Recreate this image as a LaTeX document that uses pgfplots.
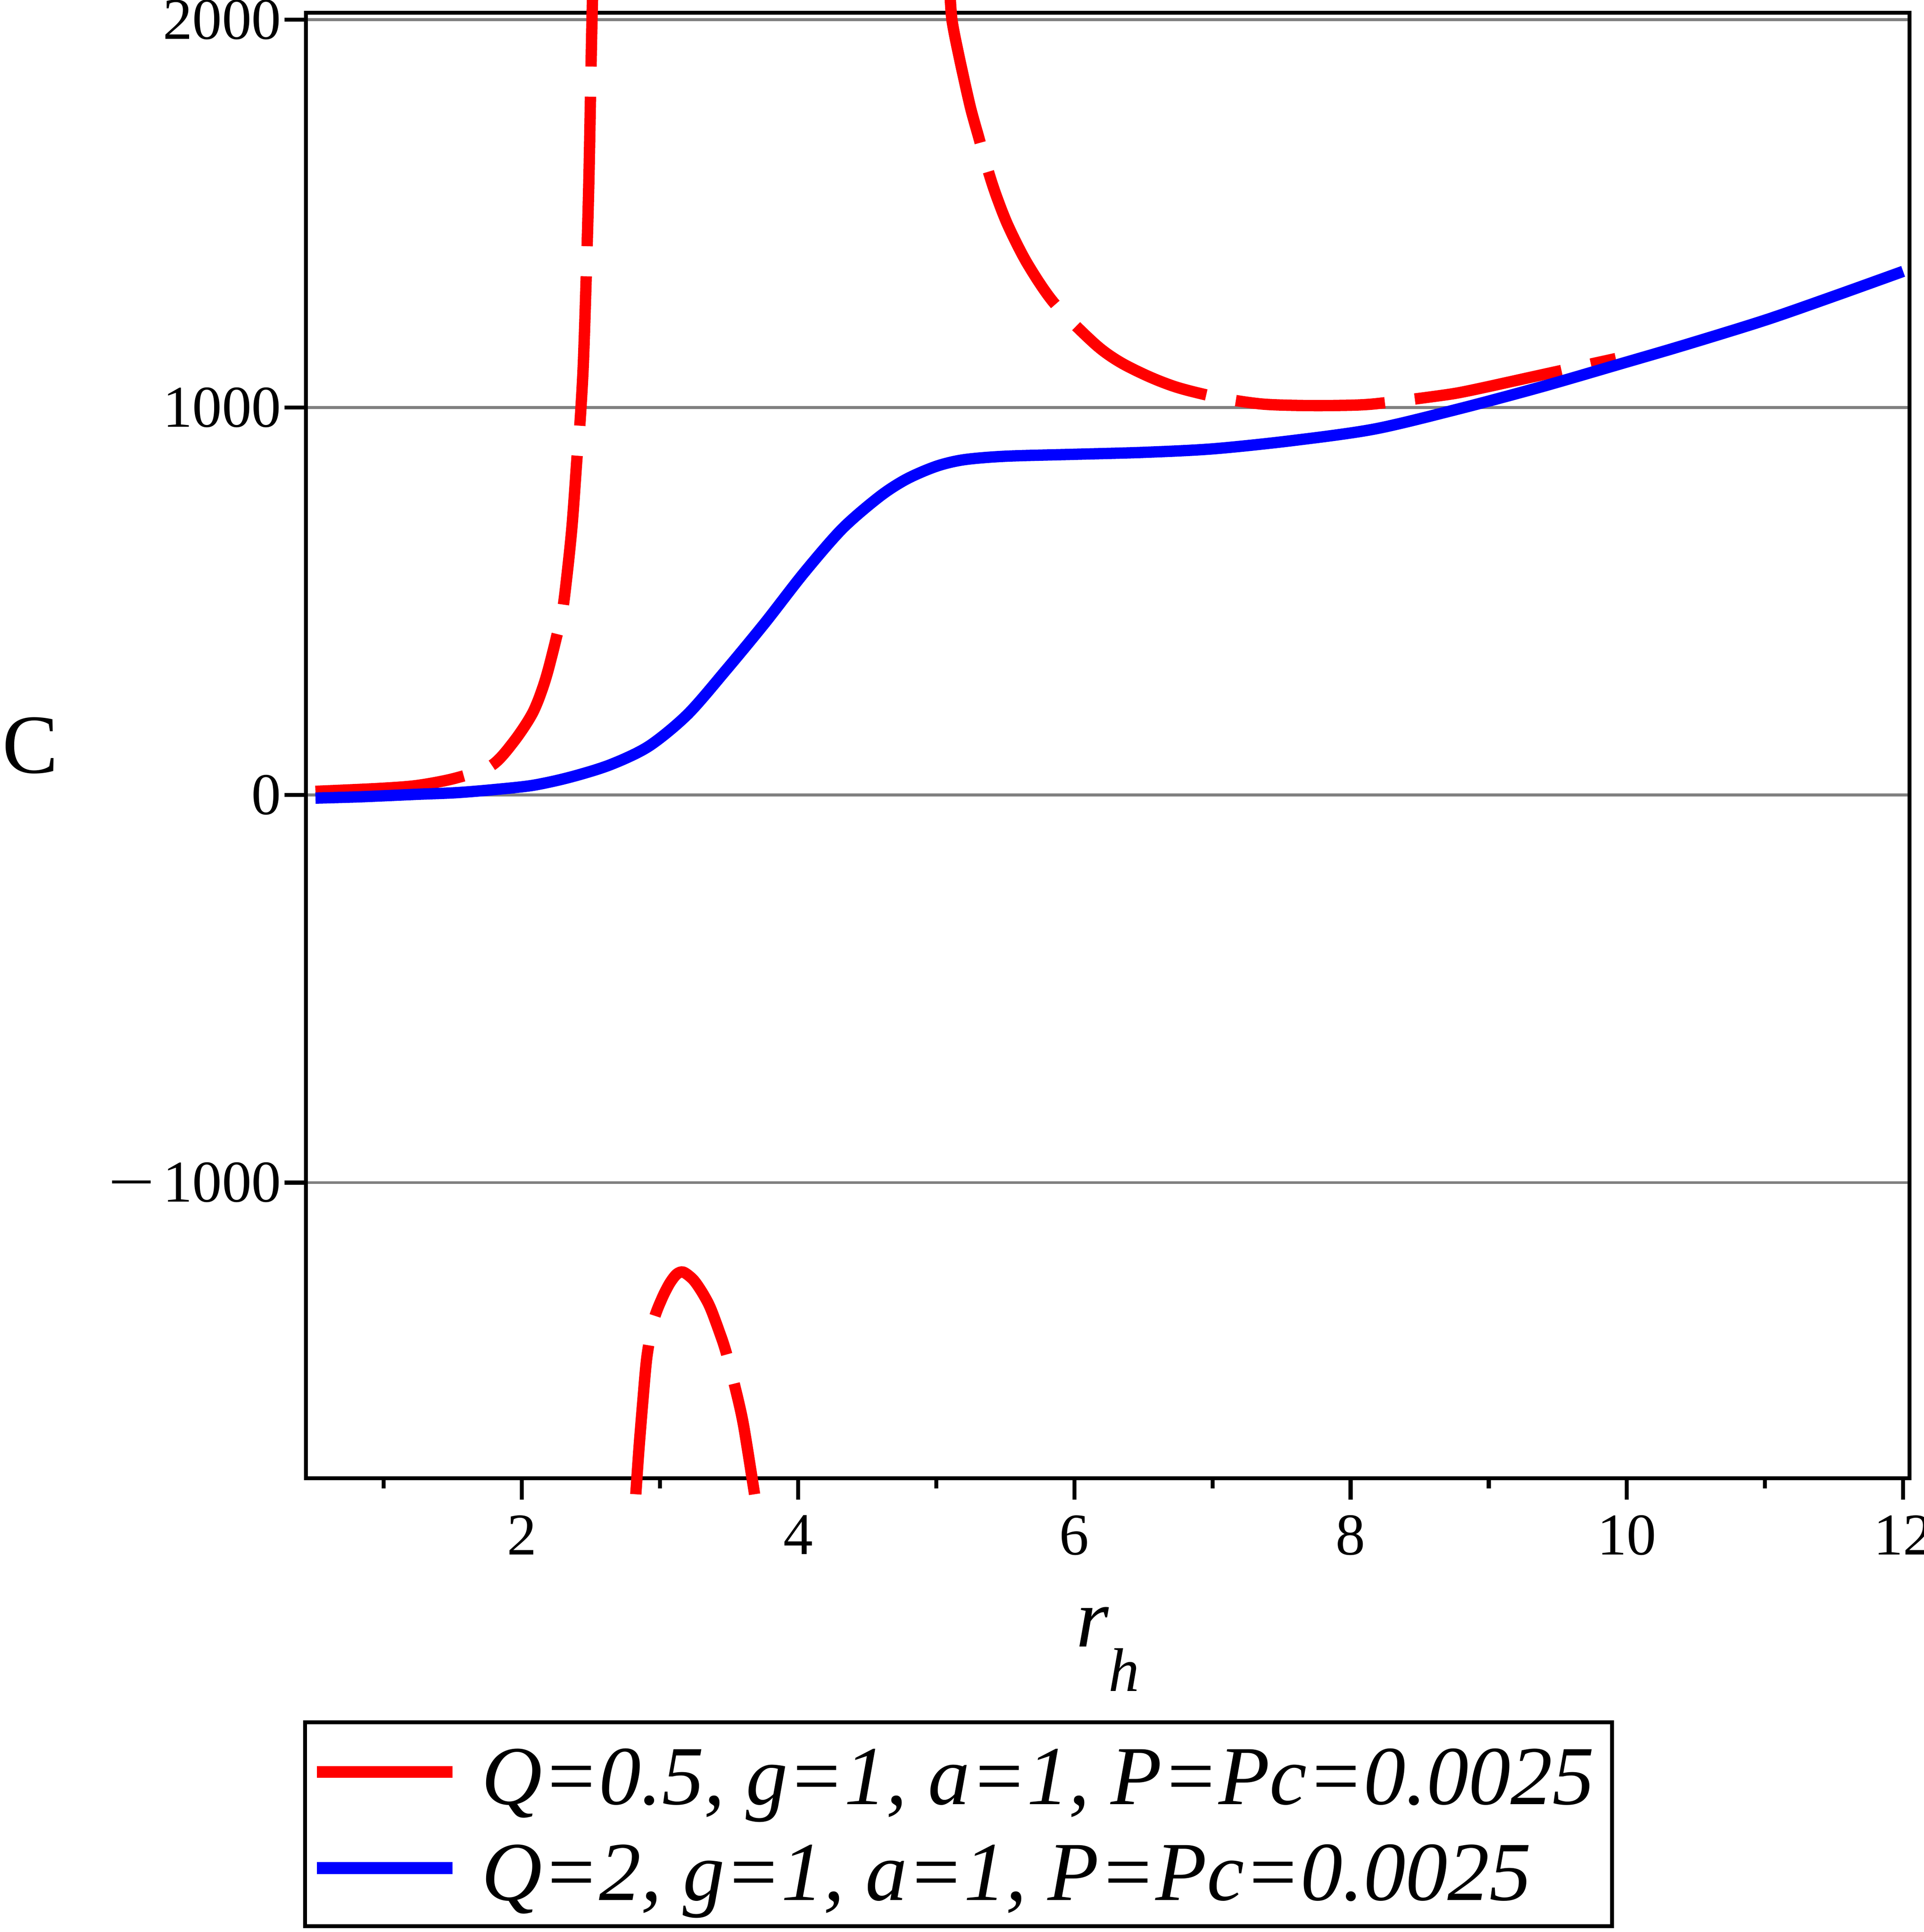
\documentclass[border=0pt]{standalone}
\usepackage{fontspec}
\setmainfont{Liberation Serif}
\usepackage{graphicx}
\usepackage{pgfplots}
\pgfplotsset{compat=1.18}
\begin{document}
\begin{tikzpicture}
\begin{axis}[
  scale only axis,
  width=325pt, height=296.9pt,
  xmin=0.437, xmax=12.047, ymin=-1763, ymax=2018,
  clip=false,
  axis line style={line width=0.75pt, black},
  xtick={2,4,6,8,10,12}, xticklabels={2,4,6,8,10,12},
  minor xtick={1,3,5,7,9,11},
  ytick={-1000,0,1000,2000}, yticklabels={\scalebox{1.4}[1]{−}\hspace{1.6pt}1000,0,1000,2000},
  tick align=outside,
  xtick pos=bottom, ytick pos=left,
  major tick length=4.3pt, minor tick length=2pt,
  every tick/.style={black, line width=0.8pt},
  ymajorgrids,
  major grid style={gray, line width=0.6pt},
  tick label style={font=\fontsize{12}{12}\selectfont},
  yticklabel style={anchor=east, inner sep=0pt, xshift=-0.5pt},
  xticklabel style={anchor=north, inner sep=0pt, yshift=-3pt},
  xlabel={\fontsize{17}{17}\selectfont\itshape r\raisebox{-9pt}{\fontsize{12.5}{12.5}\selectfont h}},
  xlabel style={at={(axis description cs:0.5,0)}, anchor=base, yshift=-34.1pt, inner sep=0pt},
  ylabel={\fontsize{17}{17}\selectfont C},
  ylabel style={rotate=-90, at={(axis description cs:-0.1718,0.4813)}, anchor=base, inner sep=0pt},
  legend style={at={(axis description cs:0,0)}, anchor=north west, xshift=-0.6pt, yshift=-49pt,
    draw=black, line width=0.8pt, fill=white, inner xsep=1.2pt, inner ysep=1.2pt,
    font=\fontsize{17}{17}\selectfont\itshape, cells={anchor=base west},
    nodes={inner sep=0pt, text height=15.4pt, text depth=4.05pt}, row sep=0pt},
  legend image code/.code={\draw[#1, solid, line width=2.4pt] (0pt,6.5pt) -- (27.5pt,6.5pt); \path (0pt,0pt) (32.3pt,0pt);},
]
\addplot[red, line width=2.3pt, dash pattern=on 30.3pt off 6.1pt, smooth] coordinates {
(0.506,9.5) (0.97,17) (1.25,25) (1.525,44) (1.78,76) (1.94,137) (2.08,213) (2.17,297)
(2.25,406) (2.30,488) (2.36,680) (2.40,873) (2.42,955) (2.445,1110) (2.469,1370)
(2.485,1580) (2.497,1800) (2.505,1950) (2.512,2060)
};
\addlegendentry{Q=0.5, g=1, a=1, P=Pc=0.0025\hspace*{2.4pt}}
\addplot[red, line width=2.3pt, dash pattern=on 30.3pt off 6.1pt, smooth, forget plot] coordinates {
(2.825,-1804) (2.849,-1682) (2.876,-1564) (2.906,-1448) (2.954,-1356) (3.013,-1300)
(3.07,-1260) (3.122,-1236) (3.17,-1231) (3.24,-1250) (3.30,-1280) (3.36,-1319)
(3.42,-1375) (3.48,-1439) (3.565,-1559) (3.61,-1636) (3.685,-1804)
};
\addplot[red, line width=2.3pt, dash pattern=on 30.3pt off 6.1pt, smooth, forget plot] coordinates {
(5.101,2060) (5.115,1997) (5.162,1911) (5.245,1778) (5.306,1699) (5.367,1621)
(5.43,1551) (5.52,1469) (5.66,1371) (5.854,1269) (6.148,1164) (6.33,1117)
(6.55,1078) (6.76,1050) (7.05,1025) (7.35,1009) (7.63,1005) (7.9,1005)
(8.17,1009) (8.66,1031) (8.87,1044) (9.37,1083) (9.92,1126)
};
\addplot[blue, line width=2.3pt, smooth] coordinates {
(0.506,-8) (0.8,-5) (1.0,-2) (1.25,2) (1.525,6) (1.8,14) (2.08,25) (2.35,46)
(2.64,78) (2.92,126) (3.20,208) (3.48,323) (3.76,444) (4.04,572) (4.32,687)
(4.59,770) (4.785,815) (5.0,848) (5.2,865) (5.5,874) (6.0,879) (6.5,884)
(7.0,893) (7.57,914) (8.17,944) (8.77,995) (9.37,1052) (9.96,1113) (10.41,1160)
(11.0,1225) (11.5,1287) (12.0,1351)
};
\addlegendentry{Q=2, g=1, a=1, P=Pc=0.0025}
\end{axis}
\pgfresetboundingbox
\path[use as bounding box] (-62pt,-91.9pt) rectangle (327.9pt,299.5pt);
\end{tikzpicture}
\end{document}
